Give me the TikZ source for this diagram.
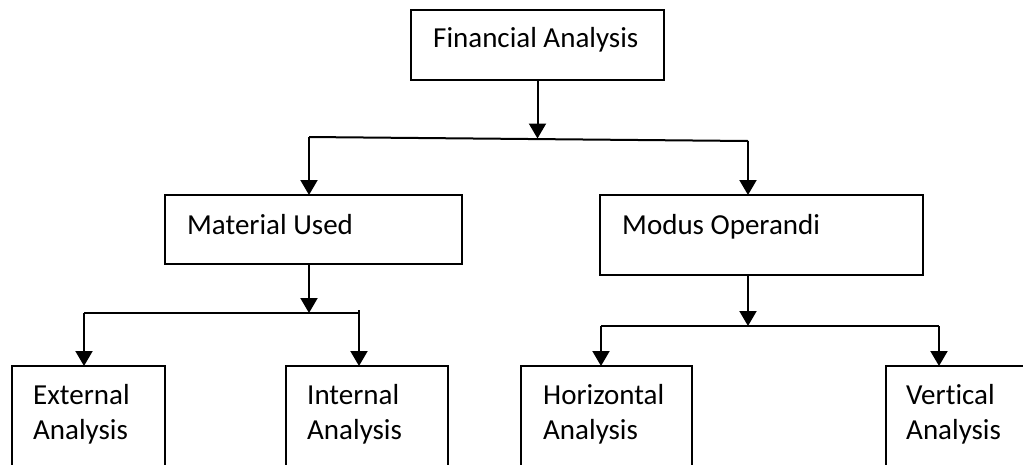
\documentclass[tikz,border=0pt]{standalone}
\usepackage{fontspec}
\setmainfont{Carlito}[Ligatures={NoCommon}]
\usetikzlibrary{arrows.meta}
\begin{document}
\begin{tikzpicture}[x=1pt,y=-1pt,
  box/.style={draw=black,line width=2pt,inner sep=0pt,outer sep=0pt,rectangle},
  txt/.style={anchor=base west,inner sep=0pt,font=\fontsize{29}{35}\selectfont},
  conn/.style={line width=2pt},
  arr/.style={line width=2pt,-{Triangle[width=17pt,length=15pt]}}]
\clip (0,0) rectangle (1023,464);
\fill[white] (0,0) rectangle (1023,464);
% boxes
\node[box,minimum width=253pt,minimum height=70pt] (fa) at (537.5,45) {};
\node[box,minimum width=297pt,minimum height=69pt] (mu) at (313.5,229.5) {};
\node[box,minimum width=323pt,minimum height=80pt] (mo) at (761.5,235) {};
\node[box,minimum width=153pt,minimum height=114pt] (ea) at (88.5,423) {};
\node[box,minimum width=162pt,minimum height=114pt] (ia) at (367,423) {};
\node[box,minimum width=171pt,minimum height=114pt] (ha) at (606.5,423) {};
\node[box,minimum width=144pt,minimum height=114pt] (va) at (958,423) {};
% texts
\node[txt] (fat) at (433,47) {Financial Analysis};
\node[txt] (mut) at (187,234) {Material Used};
\node[txt] (mot) at (622,234) {Modus Operandi};
\node[txt] (eat1) at (33,404) {External};
\node[txt] (eat2) at (33,439) {Analysis};
\node[txt] (iat1) at (307,404) {Internal};
\node[txt] (iat2) at (307,439) {Analysis};
\node[txt] (hat1) at (543,404) {Horizontal};
\node[txt] (hat2) at (543,439) {Analysis};
\node[txt] (vat1) at (906,404) {Vertical};
\node[txt] (vat2) at (906,439) {Analysis};
% junction coordinates
\coordinate (t1) at (537.5,138.5);
\coordinate (tl) at (309,137);
\coordinate (tr) at (748,141);
\coordinate (m1) at (309,313);
\coordinate (ml) at (84,313);
\coordinate (mr) at (359,313);
\coordinate (mrt) at (359,310);
\coordinate (o1) at (748,326);
\coordinate (ol) at (601,326);
\coordinate (or) at (939,326);
% connectors
\draw[arr] (fa.south) -- (t1);
\draw[conn] (tl) -- (tr);
\draw[arr] (tl) -- (tl |- mu.north);
\draw[arr] (tr) -- (tr |- mo.north);
\draw[arr] (m1 |- mu.south) -- (m1);
\draw[conn] (ml) -- (mr);
\draw[arr] (ml) -- (ml |- ea.north);
\draw[arr] (mrt) -- (mr |- ia.north);
\draw[arr] (o1 |- mo.south) -- (o1);
\draw[conn] (ol) -- (or);
\draw[arr] (ol) -- (ol |- ha.north);
\draw[arr] (or) -- (or |- va.north);
\end{tikzpicture}
\end{document}
